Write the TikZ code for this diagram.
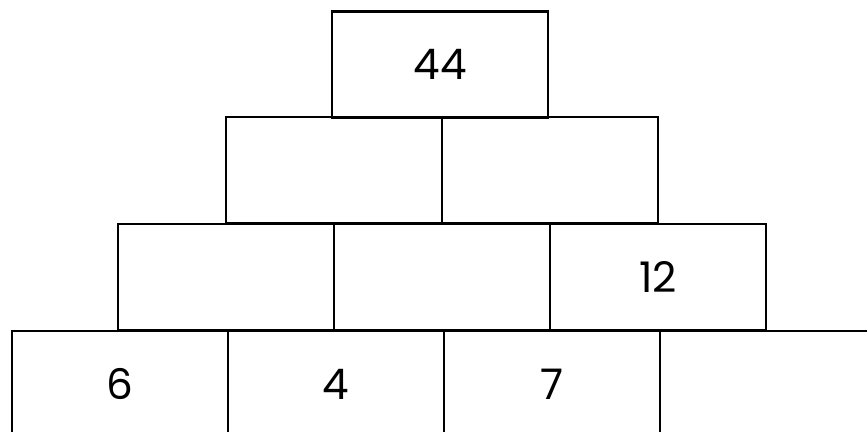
\documentclass[tikz,border=0pt]{standalone}
\usepackage{fontspec}
\setsansfont{Poppins}
\usetikzlibrary{positioning}

\begin{document}
\begin{tikzpicture}[x=0.02cm, y=-0.02cm,
    every node/.style={font=\sffamily},
    brick/.style={draw, rectangle, line width=1.4pt, minimum width=4.32cm, minimum height=2.12cm, inner sep=0pt, font=\sffamily\fontsize{24}{28}\selectfont}
]
    \clip (0,0) rectangle (867,432);
    \useasboundingbox (0,0) rectangle (867,432);

    % Row 1 (top)
    \node (top) [brick] at (440, 64.5) {44};

    % Row 2
    \node (midleft) [brick] at (334, 170) {};
    \node (midright) [brick] at (550, 170) {};

    % Row 3
    \node (lowleft) [brick] at (226, 277) {};
    \node (lowcentre) [brick] at (442, 277) {};
    \node (lowright) [brick] at (658, 277) {12};

    % Row 4 (base)
    \node (baseone) [brick] at (120, 384) {6};
    \node (basetwo) [brick] at (336, 384) {4};
    \node (basethree) [brick] at (552, 384) {7};
    \node (basefour) [brick] at (768, 384) {};

\end{tikzpicture}
\end{document}
